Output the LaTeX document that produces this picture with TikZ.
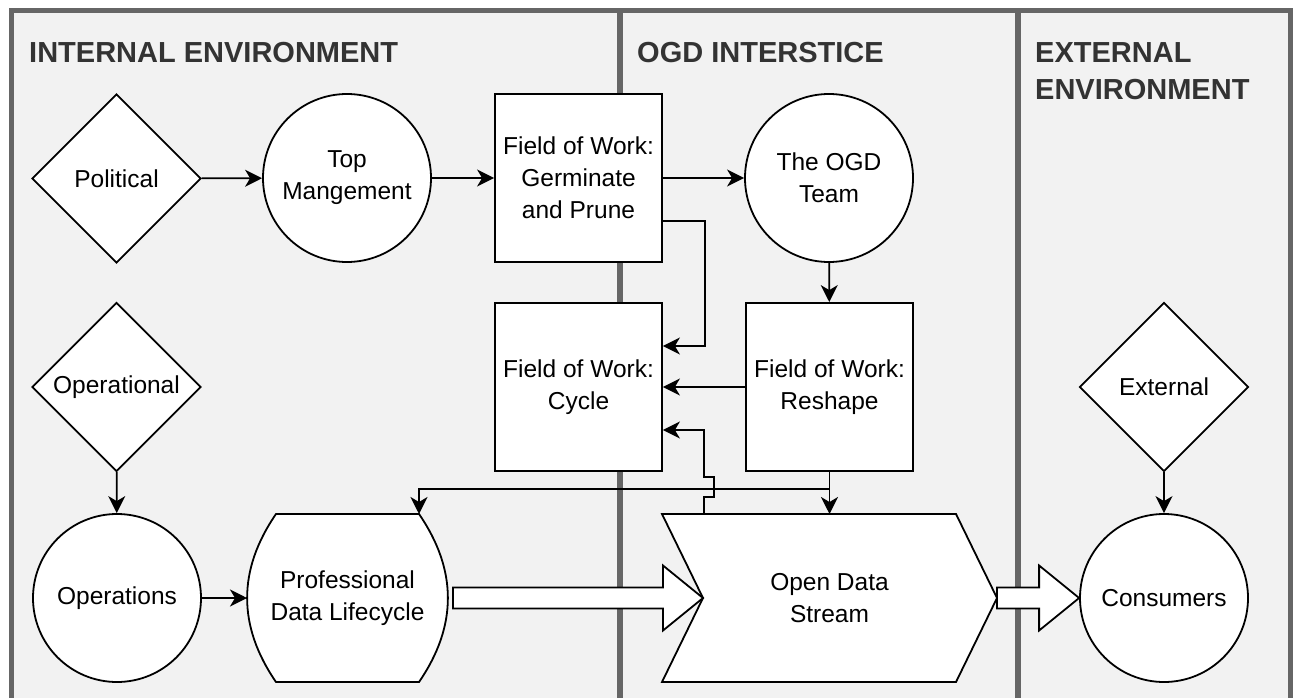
\documentclass[tikz,border=0pt]{standalone}
\usepackage{fontspec}
\setmainfont{Liberation Sans}
\usetikzlibrary{shapes.geometric,arrows.meta,calc}
\pgfdeclarelayer{back}
\pgfdeclarelayer{shapes}
\pgfsetlayers{back,shapes,main}
\definecolor{lane}{HTML}{F2F2F2}
\definecolor{rule}{HTML}{666666}
\definecolor{head}{HTML}{333333}

\begin{document}
\begin{tikzpicture}[x=1pt,y=-1pt,
  every node/.style={font=\fontsize{24.5}{32}\selectfont, inner sep=0pt, align=center},
  lanetitle/.style={font=\fontsize{29}{37}\selectfont\bfseries, text=head, anchor=base west, align=left},
  box/.style={draw, line width=1.8pt, fill=white, minimum width=167pt, minimum height=168pt},
  circ/.style={circle, draw, line width=1.8pt, fill=white, minimum size=168pt},
  diam/.style={diamond, aspect=1, draw, line width=1.8pt, fill=white, minimum width=169pt, minimum height=169pt},
  plain/.style={outer sep=0pt},
  outline/.style={draw, line width=1.8pt, fill=white, line join=miter},
  conn/.style={line width=1.8pt, -{Stealth[length=17pt, width=17pt, inset=5pt]}},
  block/.style={draw, line width=1.8pt, fill=white, line join=miter}]

\useasboundingbox (0,0) rectangle (1295,698);

% swimlane frame and dividers
\begin{pgfonlayer}{back}
  \clip (0,0) rectangle (1295,698);
  \draw[rule, line width=5pt, fill=lane] (11,10.5) rectangle (1290,730);
  \draw[rule, line width=6pt] (620,10.5) -- (620,730);
  \draw[rule, line width=6pt] (1018,10.5) -- (1018,730);
\end{pgfonlayer}

% lane titles
\node[lanetitle] (tint) at (29,63) {INTERNAL ENVIRONMENT};
\node[lanetitle] (togd) at (637,63) {OGD INTERSTICE};
\node[lanetitle] (text1) at (1035,63) {EXTERNAL};
\node[lanetitle] (text2) at (1035,100) {ENVIRONMENT};

% nodes
\node[diam] (political) at (116.5,178.5) {Political};
\node[circ] (top) at (347,178) {Top\\Mangement};
\node[box] (germ) at (578.5,178) {Field of Work:\\Germinate\\and Prune};
\node[circ] (ogd) at (829,178) {The OGD\\Team};
\node[box] (cycle) at (578.5,387) {Field of Work:\\Cycle};
\node[box] (reshape) at (829.5,387) {Field of Work:\\Reshape};
\node[diam] (operational) at (116.5,387) {Operational};
\node[diam] (external) at (1164,387) {External};
\node[circ] (operations) at (117,598) {Operations};
\node[plain, minimum width=201pt, minimum height=168pt] (pdl) at (347.5,598) {Professional\\Data Lifecycle};
\node[plain, minimum width=335pt, minimum height=168pt] (ods) at (829.5,598) {Open Data\\Stream};
\node[circ] (cons) at (1164,598) {Consumers};

% outlines of the two custom shapes
\begin{pgfonlayer}{shapes}
  \coordinate (pa) at ($(pdl.north east)+(-29,0)$);
  \coordinate (pb) at ($(pdl.south east)+(-29,0)$);
  \coordinate (pc) at ($(pdl.south west)+(29,0)$);
  \coordinate (pd) at ($(pdl.north west)+(29,0)$);
  \path[outline] (pd) -- (pa)
    .. controls ($(pa)+(38.5,56)$) and ($(pb)+(38.5,-56)$) .. (pb)
    -- (pc)
    .. controls ($(pc)+(-38.5,-56)$) and ($(pd)+(-38.5,56)$) .. (pd) -- cycle;
  \path[outline] (ods.north west) -- ($(ods.north east)+(-41,0)$) -- (ods.east)
    -- ($(ods.south east)+(-41,0)$) -- (ods.south west) -- ($(ods.west)+(41,0)$) -- cycle;
\end{pgfonlayer}

% connectors
\draw[conn] (political) -- (top);
\draw[conn] (top) -- (germ);
\draw[conn] (germ) -- (ogd);
\draw[conn] (ogd) -- (reshape);
\draw[conn] ($(germ.east)+(0,43)$) -- ++(42,0) |- ($(cycle.east)+(0,-41)$);
\draw[conn] (reshape.west) -- (cycle.east);
\coordinate (split) at ($(reshape.south)+(0,17)$);
\draw[conn] (reshape.south) -- (reshape.south |- ods.north);
\draw[conn] (split) -| (pa);
\draw[conn] ($(ods.north west)+(42,0)$) -- ++(0,-17) -- ++(10,0) -- ++(0,-20) -- ++(-10,0)
  |- ($(cycle.east)+(0,43)$);
\draw[conn] (operational) -- (operations);
\draw[conn] (operations) -- (pdl.west);
\draw[conn] (external) -- (cons);

% hollow flow arrows
\coordinate (s1) at ($(pdl.east)+(5,0)$);
\coordinate (t1) at ($(ods.west)+(41,0)$);
\path[block] ($(s1)+(0,-10.5)$) -- ($(t1)+(-40,-10.5)$) -- ($(t1)+(-40,-32.5)$) -- (t1)
  -- ($(t1)+(-40,32.5)$) -- ($(t1)+(-40,10.5)$) -- ($(s1)+(0,10.5)$) -- cycle;
\coordinate (s2) at (ods.east);
\coordinate (t2) at (cons.west);
\path[block] ($(s2)+(0,-10.5)$) -- ($(t2)+(-40,-10.5)$) -- ($(t2)+(-40,-32.5)$) -- (t2)
  -- ($(t2)+(-40,32.5)$) -- ($(t2)+(-40,10.5)$) -- ($(s2)+(0,10.5)$) -- cycle;
\end{tikzpicture}
\end{document}
